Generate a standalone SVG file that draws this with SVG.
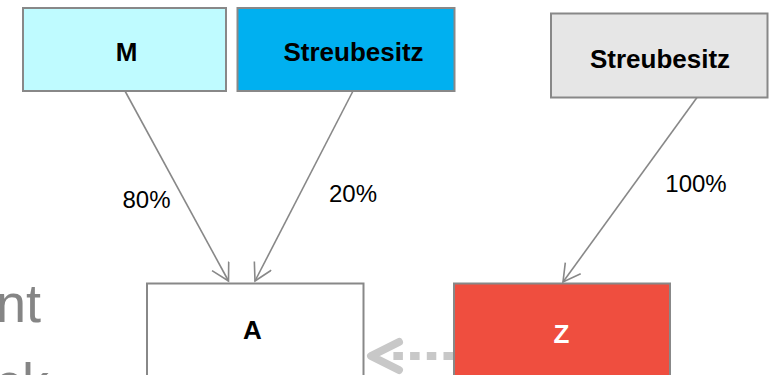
<svg xmlns="http://www.w3.org/2000/svg" width="775" height="375" viewBox="0 0 775 375">
  <style>
    .box { stroke: #888888; stroke-width: 2; }
    .lbl { font-family: "Liberation Sans", Arial, sans-serif; font-weight: bold; font-size: 26px; fill: #000000; }
    .pct { font-family: "Liberation Sans", Arial, sans-serif; font-size: 24px; fill: #000000; }
    .conn { stroke: #888888; stroke-width: 1.6; fill: none; }
    .bg { font-family: "Liberation Sans", Arial, sans-serif; font-size: 54px; fill: #858585; }
  </style>
  <defs>
    <marker id="arr" markerUnits="userSpaceOnUse" markerWidth="22" markerHeight="22" refX="18" refY="10" orient="auto">
      <path d="M1,0.5 L18,10 L1,19.5" fill="none" stroke="#888888" stroke-width="1.6"/>
    </marker>
  </defs>
  <rect width="775" height="375" fill="#ffffff"/>

  <text class="bg" x="-4" y="322">nt</text>
  <text class="bg" x="-5" y="401">ck</text>

  <g id="node-M">
    <rect class="box" x="23" y="8" width="203" height="83" fill="#bffbff"/>
    <text class="lbl" x="126.5" y="61" text-anchor="middle">M</text>
  </g>
  <g id="node-Streubesitz1">
    <rect class="box" x="237.5" y="8" width="217" height="83" fill="#00b0f0"/>
    <text class="lbl" x="353.5" y="61" text-anchor="middle">Streubesitz</text>
  </g>
  <g id="node-Streubesitz2">
    <rect class="box" x="551" y="13.5" width="216.5" height="84" fill="#e6e6e6"/>
    <text class="lbl" x="660" y="67.5" text-anchor="middle">Streubesitz</text>
  </g>
  <g id="node-A">
    <rect class="box" x="147" y="283.5" width="216.5" height="100" fill="#ffffff"/>
    <text class="lbl" x="252.5" y="339" text-anchor="middle">A</text>
  </g>
  <g id="node-Z">
    <rect class="box" x="454" y="283.5" width="216" height="100" fill="#ef4e3f"/>
    <text class="lbl" x="561.5" y="342.5" text-anchor="middle" style="fill:#ffffff">Z</text>
  </g>

  <g id="connectors">
    <line class="conn" x1="125" y1="91" x2="228.5" y2="281" marker-end="url(#arr)"/>
    <line class="conn" x1="353" y1="91" x2="255" y2="281" marker-end="url(#arr)"/>
    <line class="conn" x1="697" y1="97.5" x2="563" y2="282" marker-end="url(#arr)"/>
    <path d="M453,356 L393,356" fill="none" stroke="#c8c8c8" stroke-width="8" stroke-dasharray="9.5 7.2"/>
    <polyline points="399,342 371,356 399,370" fill="none" stroke="#c8c8c8" stroke-width="8" stroke-linecap="round" stroke-linejoin="round"/>
  </g>

  <g id="labels">
    <text class="pct" x="146.5" y="208" text-anchor="middle">80%</text>
    <text class="pct" x="353" y="202" text-anchor="middle">20%</text>
    <text class="pct" x="696" y="192" text-anchor="middle">100%</text>
  </g>
</svg>
